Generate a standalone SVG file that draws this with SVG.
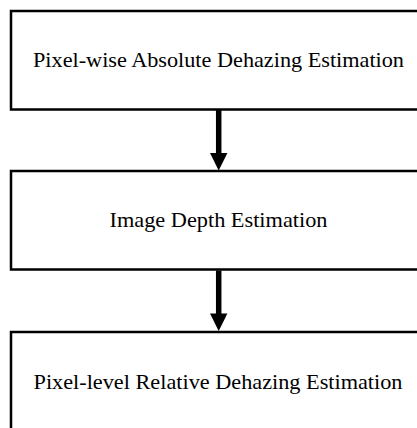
<svg xmlns="http://www.w3.org/2000/svg" width="417" height="428" viewBox="0 0 417 428">
  <defs>
    <style>
      .box { fill: #ffffff; stroke: #000000; stroke-width: 2.5; }
      .label { font-size: 22px; fill: #000000; text-anchor: middle; }
      .shaft { stroke: #000000; stroke-width: 5.5; fill: none; }
      .head { fill: #000000; }
    </style>
  </defs>
  <rect width="417" height="428" fill="#ffffff"/>

  <!-- Pipeline steps -->
  <g id="absolute-dehazing">
    <rect class="box" x="11" y="11" width="420" height="98.5"/>
    <text class="label" font-family="Liberation Serif, serif" x="218.5" y="66.7" textLength="371" lengthAdjust="spacingAndGlyphs">Pixel-wise Absolute Dehazing Estimation</text>
  </g>
  <g id="depth-estimation">
    <rect class="box" x="11" y="171" width="420" height="98.5"/>
    <text class="label" font-family="Liberation Serif, serif" x="218.5" y="226.5" textLength="218" lengthAdjust="spacingAndGlyphs">Image Depth Estimation</text>
  </g>
  <g id="relative-dehazing">
    <rect class="box" x="11" y="332" width="420" height="110"/>
    <text class="label" font-family="Liberation Serif, serif" x="218" y="389" textLength="369" lengthAdjust="spacingAndGlyphs">Pixel-level Relative Dehazing Estimation</text>
  </g>

  <!-- Connectors -->
  <g id="connectors">
    <line class="shaft" x1="218.7" y1="110" x2="218.7" y2="154"/>
    <polygon class="head" points="210,153 227.4,153 218.7,170.5"/>
    <line class="shaft" x1="218.7" y1="270.5" x2="218.7" y2="314"/>
    <polygon class="head" points="210,313.5 227.4,313.5 218.7,331"/>
  </g>
</svg>
